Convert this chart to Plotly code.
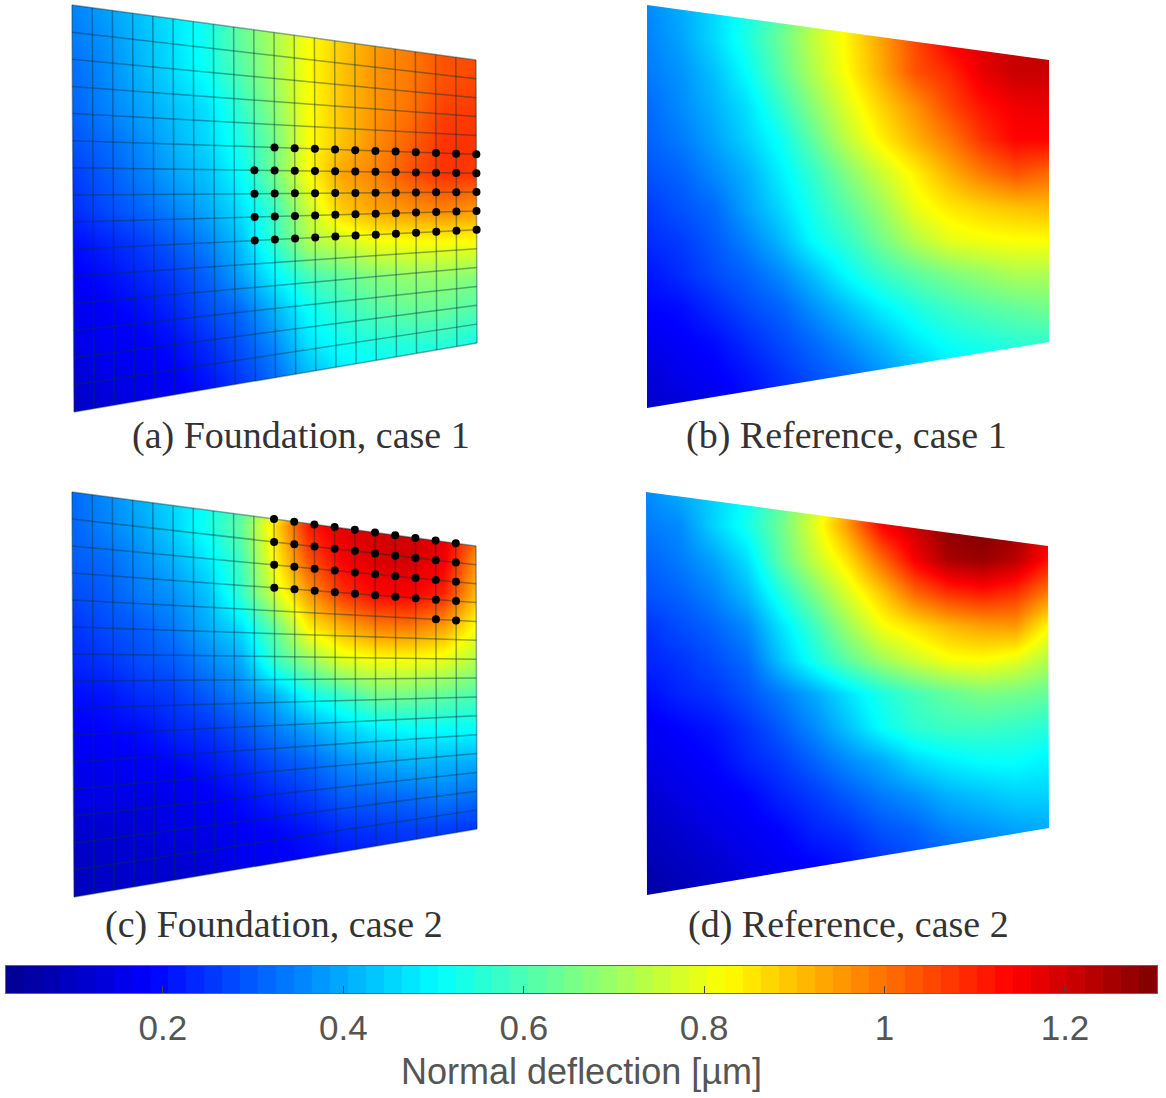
import numpy as np
import plotly.graph_objects as go

FIG_W, FIG_H = 1166, 1098

# Field values [um] on a 13 x 13 sampling lattice per panel
values_a = [
    [.35,.39,.43,.48,.52,.63,.72,.82,.90,.96,.99,1.04,1.05],
    [.34,.37,.42,.47,.53,.63,.72,.82,.89,.95,.99,1.04,1.05],
    [.32,.36,.41,.46,.52,.61,.71,.82,.90,.96,.99,1.04,1.05],
    [.31,.35,.39,.43,.47,.57,.68,.82,.90,.96,1.00,1.06,1.07],
    [.29,.32,.36,.41,.46,.54,.65,.82,.90,.97,1.02,1.08,1.08],
    [.26,.30,.34,.39,.43,.51,.65,.82,.94,.98,1.04,1.08,1.07],
    [.24,.28,.31,.35,.40,.47,.58,.76,.89,.94,.96,.98,.95],
    [.20,.23,.26,.30,.35,.43,.57,.72,.76,.81,.82,.82,.82],
    [.18,.20,.23,.26,.31,.39,.49,.59,.63,.67,.69,.69,.67],
    [.16,.18,.20,.23,.28,.32,.41,.51,.57,.61,.63,.63,.60],
    [.15,.17,.18,.20,.24,.29,.36,.47,.52,.54,.55,.55,.53],
    [.12,.15,.16,.18,.21,.26,.32,.41,.47,.49,.51,.52,.51],
    [.10,.12,.15,.17,.19,.23,.29,.35,.41,.45,.48,.51,.51],
]
values_b = [
    [.36,.40,.46,.53,.61,.72,.84,.94,1.05,1.15,1.19,1.22,1.23],
    [.35,.39,.46,.54,.64,.75,.84,.94,1.05,1.15,1.19,1.22,1.23],
    [.34,.37,.43,.51,.62,.73,.83,.93,1.04,1.09,1.17,1.21,1.21],
    [.32,.36,.41,.47,.57,.68,.79,.88,.96,1.05,1.12,1.16,1.17],
    [.31,.34,.39,.45,.52,.63,.75,.84,.92,.99,1.08,1.14,1.14],
    [.29,.31,.36,.41,.49,.57,.67,.76,.84,.92,.99,1.04,1.01],
    [.26,.29,.32,.39,.46,.54,.62,.70,.80,.85,.88,.90,.91],
    [.24,.26,.30,.35,.42,.51,.57,.65,.73,.79,.81,.82,.82],
    [.21,.24,.28,.31,.36,.43,.51,.57,.62,.66,.69,.72,.72],
    [.19,.20,.24,.28,.31,.37,.43,.49,.54,.58,.61,.63,.65],
    [.16,.18,.20,.24,.28,.32,.37,.42,.48,.52,.54,.56,.57],
    [.13,.16,.18,.21,.25,.29,.32,.37,.42,.47,.49,.51,.52],
    [.11,.13,.16,.19,.23,.26,.30,.34,.37,.41,.45,.47,.49],
]
values_c = [
    [.32,.36,.41,.46,.51,.58,.72,.98,1.15,1.20,1.20,1.18,1.13],
    [.31,.35,.39,.45,.53,.63,.86,1.11,1.18,1.20,1.20,1.18,1.05],
    [.30,.32,.36,.41,.48,.59,.83,1.04,1.15,1.19,1.20,1.16,.95],
    [.28,.30,.34,.37,.43,.57,.77,.95,1.08,1.14,1.15,1.10,.90],
    [.25,.28,.30,.34,.40,.47,.63,.84,.92,.98,.99,.94,.81],
    [.23,.25,.28,.30,.35,.40,.57,.68,.78,.81,.81,.79,.72],
    [.20,.21,.24,.26,.30,.35,.41,.52,.58,.65,.65,.63,.60],
    [.18,.19,.20,.23,.25,.29,.34,.39,.45,.49,.51,.51,.51],
    [.16,.17,.18,.19,.21,.24,.28,.31,.36,.39,.41,.41,.40],
    [.15,.15,.15,.16,.18,.20,.23,.26,.30,.31,.32,.34,.32],
    [.12,.12,.13,.15,.16,.18,.19,.21,.24,.25,.26,.26,.25],
    [.10,.11,.12,.12,.13,.16,.17,.19,.20,.21,.23,.23,.23],
    [.09,.10,.11,.11,.12,.13,.15,.17,.18,.19,.20,.20,.20],
]
values_d = [
    [.36,.40,.45,.51,.61,.74,.92,1.17,1.27,1.30,1.30,1.27,1.20],
    [.34,.36,.45,.53,.64,.79,.95,1.14,1.21,1.29,1.30,1.27,1.18],
    [.31,.34,.39,.47,.62,.75,.86,1.01,1.15,1.25,1.27,1.23,1.12],
    [.29,.31,.35,.42,.54,.66,.78,.89,1.01,1.08,1.11,1.08,.98],
    [.25,.28,.31,.36,.47,.58,.70,.81,.86,.91,.94,.95,.82],
    [.23,.25,.28,.32,.43,.53,.62,.70,.76,.81,.82,.79,.72],
    [.20,.23,.25,.29,.34,.40,.47,.54,.59,.63,.66,.65,.63],
    [.17,.19,.21,.25,.30,.36,.43,.51,.56,.58,.58,.57,.55],
    [.15,.17,.19,.23,.26,.31,.36,.40,.46,.49,.51,.51,.49],
    [.12,.15,.17,.19,.23,.26,.30,.34,.37,.41,.43,.45,.45],
    [.10,.12,.15,.17,.19,.23,.25,.29,.31,.35,.37,.39,.40],
    [.08,.10,.12,.15,.17,.19,.21,.25,.28,.30,.32,.35,.36],
    [.05,.08,.10,.12,.15,.17,.19,.23,.25,.28,.30,.32,.34],
]

# Panel corners in page pixels: TL, TR, BR, BL
corners_a = [(72, 5), (476, 60), (477, 343), (74, 412)]
corners_b = [(647, 5), (1049, 60), (1049, 342), (647, 408)]
corners_c = [(72, 492), (476, 546), (477, 829), (74, 897)]
corners_d = [(646, 492), (1048, 546), (1049, 828), (647, 895)]

# Foundation mesh and the loaded nodes (column range per row)
mesh_cols, mesh_rows = 20, 15
dots_a = {5: (10, 20), 6: (9, 20), 7: (9, 20), 8: (9, 20), 9: (9, 20)}
dots_c = {0: (10, 19), 1: (10, 19), 2: (10, 19), 3: (10, 19), 4: (18, 19)}

panel_labels = ["(a) Foundation, case 1", "(b) Reference, case 1",
                "(c) Foundation, case 2", "(d) Reference, case 2"]
label_x = [301, 846, 274, 848]
label_y = [435, 435, 924, 924]

tick_values = [0.2, 0.4, 0.6, 0.8, 1.0, 1.2]
tick_labels = ["0.2", "0.4", "0.6", "0.8", "1", "1.2"]
bar_title = "Normal deflection [µm]"
Z_MIN, Z_MAX = 0.026, 1.302
N_LEVELS = 64

# Jet colormap: smooth for the panels, stepped for the bar
jet_pos = [0, .125, .375, .625, .875, 1]
jet_r = [0, 0, 0, 255, 255, 128]
jet_g = [0, 0, 255, 255, 0, 0]
jet_b = [143, 255, 255, 0, 0, 0]
jet_smooth = [[p, "rgb(%d,%d,%d)" % (r, g, b)] for p, r, g, b in zip(jet_pos, jet_r, jet_g, jet_b)]
jet_stepped = []
for i in range(N_LEVELS):
    f = (i + .5) / N_LEVELS
    c = "rgb(%d,%d,%d)" % (np.interp(f, jet_pos, jet_r), np.interp(f, jet_pos, jet_g), np.interp(f, jet_pos, jet_b))
    jet_stepped += [[i / N_LEVELS, c], [(i + 1) / N_LEVELS, c]]


def node(c, u, v):
    tl, tr, br, bl = [np.array(p, float) for p in c]
    return (tl * (1 - u) + tr * u) * (1 - v) + (bl * (1 - u) + br * u) * v


def add_field(fig, z, c):
    xs = [p[0] for p in c]
    ys = [p[1] for p in c]
    l, r, t, b = min(xs), max(xs), min(ys), max(ys)
    fig.add_trace(go.Heatmap(
        x=np.linspace(l, r, len(z[0])), y=np.linspace(t, b, len(z)), z=z,
        zsmooth="best", zmin=Z_MIN, zmax=Z_MAX, colorscale=jet_smooth,
        showscale=False, hoverinfo="skip", xaxis="x", yaxis="y"))
    # white masks turn the rectangle into the projected quadrilateral
    m = 30
    tl, tr, br, bl = c
    mx = [l-m, r+m, r+m, tr[0], tl[0], l-m, l-m, None,
          l-m, r+m, r+m, br[0], bl[0], l-m, l-m, None,
          l-m, tl[0], bl[0], l-m, l-m, None,
          r+m, tr[0], br[0], r+m, r+m]
    my = [t-m, t-m, tr[1], tr[1], tl[1], tl[1], t-m, None,
          b+m, b+m, br[1], br[1], bl[1], bl[1], b+m, None,
          tl[1], tl[1], bl[1], bl[1], tl[1], None,
          tr[1], tr[1], br[1], br[1], tr[1]]
    fig.add_trace(go.Scatter(x=mx, y=my, mode="lines", fill="toself", fillcolor="white",
                             line=dict(width=0, color="white"), hoverinfo="skip", showlegend=False))


def add_mesh(fig, c, dots):
    lx, ly = [], []
    for i in range(mesh_cols + 1):
        for v in (0, 1):
            p = node(c, i / mesh_cols, v)
            lx.append(p[0]); ly.append(p[1])
        lx.append(None); ly.append(None)
    for j in range(mesh_rows + 1):
        for u in (0, 1):
            p = node(c, u, j / mesh_rows)
            lx.append(p[0]); ly.append(p[1])
        lx.append(None); ly.append(None)
    fig.add_trace(go.Scatter(x=lx, y=ly, mode="lines", hoverinfo="skip", showlegend=False,
                             line=dict(color="rgba(0,50,60,0.42)", width=1.5)))
    dx, dy = [], []
    for j, (c0, c1) in dots.items():
        for i in range(c0, c1 + 1):
            p = node(c, i / mesh_cols, j / mesh_rows)
            dx.append(p[0]); dy.append(p[1])
    fig.add_trace(go.Scatter(x=dx, y=dy, mode="markers", hoverinfo="skip", showlegend=False,
                             marker=dict(color="black", size=8)))


fig = go.Figure()
for z, c in [(values_a, corners_a), (values_b, corners_b), (values_c, corners_c), (values_d, corners_d)]:
    add_field(fig, z, c)
add_mesh(fig, corners_a, dots_a)
add_mesh(fig, corners_c, dots_c)

# Colour bar as a stepped heatmap on its own axis
edges = np.linspace(Z_MIN, Z_MAX, N_LEVELS + 1)
centers = (edges[:-1] + edges[1:]) / 2
fig.add_trace(go.Heatmap(x=centers, y=[0], z=[centers], zmin=Z_MIN, zmax=Z_MAX,
                         colorscale=jet_stepped, showscale=False, hoverinfo="skip",
                         xaxis="x2", yaxis="y2"))

annotations = [dict(x=x, y=y, xref="x", yref="y", text=t, showarrow=False,
                    font=dict(family="Liberation Serif", size=38, color="#333333"),
                    xanchor="center", yanchor="middle")
               for t, x, y in zip(panel_labels, label_x, label_y)]

fig.update_layout(
    width=FIG_W, height=FIG_H, autosize=False, margin=dict(l=0, r=0, t=0, b=0),
    paper_bgcolor="white", plot_bgcolor="white", showlegend=False,
    annotations=annotations,
    xaxis=dict(domain=[0, 1], range=[0, FIG_W], visible=False, fixedrange=True),
    yaxis=dict(domain=[0, 1], range=[FIG_H, 0], visible=False, fixedrange=True),
    xaxis2=dict(domain=[6 / FIG_W, 1157 / FIG_W], range=[Z_MIN, Z_MAX], anchor="y2",
                tickvals=tick_values, ticktext=tick_labels, ticks="inside", ticklen=7,
                tickcolor="#444444", tickwidth=1, ticklabelstandoff=4,
                tickfont=dict(family="Liberation Sans", size=35, color="#555555"),
                showgrid=False, zeroline=False, showline=True, linecolor="#666666", mirror=True,
                title=dict(text=bar_title, standoff=12,
                           font=dict(family="Liberation Sans", size=36, color="#555555"))),
    yaxis2=dict(domain=[1 - 993 / FIG_H, 1 - 966 / FIG_H], range=[-.5, .5], anchor="x2",
                showticklabels=False, ticks="", showgrid=False, zeroline=False,
                showline=True, linecolor="#666666", mirror=True),
)
fig.write_html("out.html", config=dict(displayModeBar=False),
               post_script="document.body.style.margin='0';document.body.style.overflow='hidden';")
